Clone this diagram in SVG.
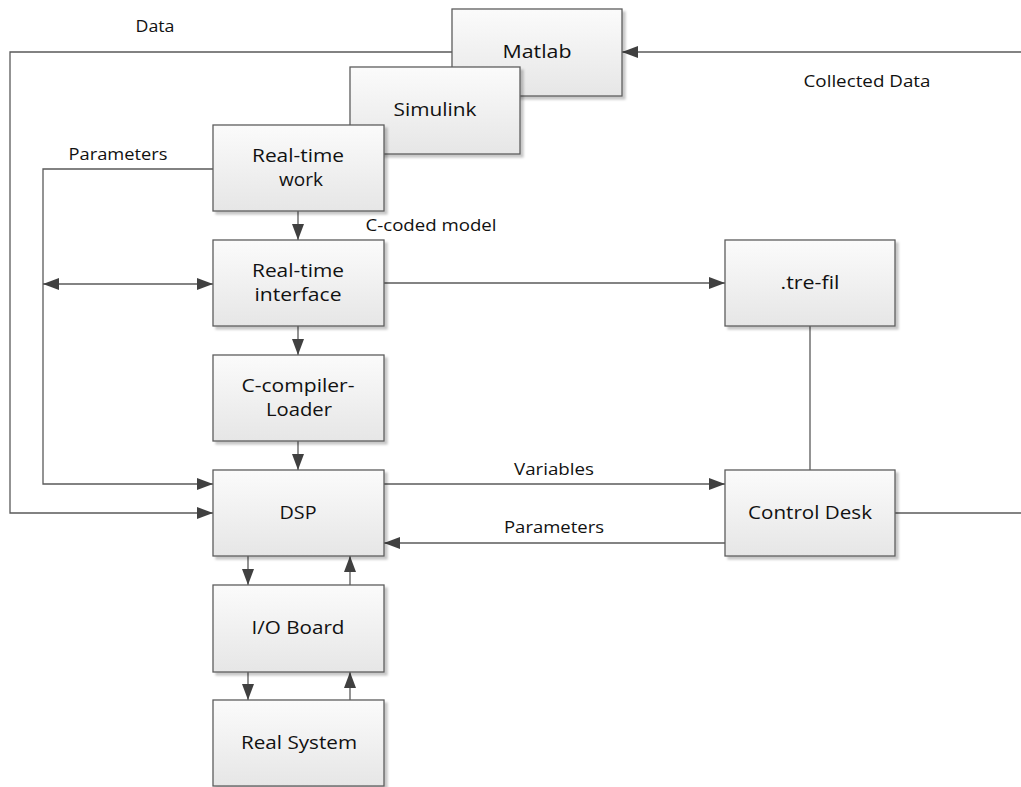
<svg xmlns="http://www.w3.org/2000/svg" width="1021" height="787" viewBox="0 0 1021 787">
<defs>
<linearGradient id="g" x1="0" y1="0" x2="0" y2="1">
<stop offset="0" stop-color="#fbfbfb"/>
<stop offset="1" stop-color="#e6e6e6"/>
</linearGradient>
<filter id="sh" x="-10%" y="-10%" width="130%" height="130%">
<feDropShadow dx="3" dy="3" stdDeviation="1.2" flood-color="#000" flood-opacity="0.22"/>
</filter>
<marker id="ah" viewBox="0 0 16 12" refX="16" refY="6" markerWidth="16" markerHeight="12" markerUnits="userSpaceOnUse" orient="auto-start-reverse">
<path d="M0,0 L16,6 L0,12 Z" fill="#404040"/>
</marker>
<style>
.box{fill:url(#g);stroke:#5e5e5e;stroke-width:1.3;filter:url(#sh)}
.t{font-family:"Open Sans","Liberation Sans",sans-serif;font-size:18px;fill:#111;text-anchor:middle}
.l{font-family:"Open Sans","Liberation Sans",sans-serif;font-size:15.5px;fill:#111;text-anchor:middle}
.c{fill:none;stroke:#5a5a5a;stroke-width:1.3}
.a{marker-end:url(#ah)}
.b{marker-start:url(#ah);marker-end:url(#ah)}
</style>
</defs>
<g id="connectors">
<path class="c a" d="M452,52 H10 V513 H213"/>
<path class="c a" d="M213,169 H43 V484 H213"/>
<path class="c b" d="M43,284 H213"/>
<path class="c a" d="M298,211 V240"/>
<path class="c a" d="M384,283 H725"/>
<path class="c a" d="M298,326 V355"/>
<path class="c a" d="M298,441 V470"/>
<path class="c a" d="M384,484 H725"/>
<path class="c a" d="M725,543 H384"/>
<path class="c" d="M810,326 V470"/>
<path class="c" d="M895,513 H1021"/>
<path class="c a" d="M1021,52 H622"/>
<path class="c a" d="M248,556 V585"/>
<path class="c a" d="M350,585 V556"/>
<path class="c a" d="M248,672 V700"/>
<path class="c a" d="M350,700 V672"/>
<text class="l" x="155" y="32" textLength="39" lengthAdjust="spacingAndGlyphs">Data</text>
<text class="l" x="118" y="160" textLength="99" lengthAdjust="spacingAndGlyphs">Parameters</text>
<text class="l" x="867" y="87" textLength="127" lengthAdjust="spacingAndGlyphs">Collected Data</text>
<text class="l" x="431" y="231" textLength="131" lengthAdjust="spacingAndGlyphs">C-coded model</text>
<text class="l" x="554" y="475" textLength="80" lengthAdjust="spacingAndGlyphs">Variables</text>
<text class="l" x="554" y="533" textLength="100" lengthAdjust="spacingAndGlyphs">Parameters</text>
</g>
<g id="matlab"><rect class="box" x="452" y="9" width="170" height="87"/><text class="t" x="537" y="58" textLength="69" lengthAdjust="spacingAndGlyphs">Matlab</text></g>
<g id="simulink"><rect class="box" x="350" y="67" width="170" height="87"/><text class="t" x="435" y="116" textLength="83" lengthAdjust="spacingAndGlyphs">Simulink</text></g>
<g id="rtw"><rect class="box" x="213" y="125" width="171" height="86"/><text class="t" x="298" y="162" textLength="92" lengthAdjust="spacingAndGlyphs">Real-time</text><text class="t" x="301" y="186" textLength="44" lengthAdjust="spacingAndGlyphs">work</text></g>
<g id="rti"><rect class="box" x="213" y="240" width="171" height="86"/><text class="t" x="298" y="277" textLength="92" lengthAdjust="spacingAndGlyphs">Real-time</text><text class="t" x="298" y="301" textLength="87" lengthAdjust="spacingAndGlyphs">interface</text></g>
<g id="tre"><rect class="box" x="725" y="240" width="170" height="86"/><text class="t" x="810" y="289" textLength="59" lengthAdjust="spacingAndGlyphs">.tre-fil</text></g>
<g id="cc"><rect class="box" x="213" y="355" width="171" height="86"/><text class="t" x="298" y="392" textLength="113" lengthAdjust="spacingAndGlyphs">C-compiler-</text><text class="t" x="299" y="416" textLength="66" lengthAdjust="spacingAndGlyphs">Loader</text></g>
<g id="dsp"><rect class="box" x="213" y="470" width="171" height="86"/><text class="t" x="298" y="519" textLength="37" lengthAdjust="spacingAndGlyphs">DSP</text></g>
<g id="cd"><rect class="box" x="725" y="470" width="170" height="86"/><text class="t" x="810" y="519" textLength="124" lengthAdjust="spacingAndGlyphs">Control Desk</text></g>
<g id="io"><rect class="box" x="213" y="585" width="171" height="87"/><text class="t" x="298" y="634" textLength="93" lengthAdjust="spacingAndGlyphs">I/O Board</text></g>
<g id="rs"><rect class="box" x="213" y="700" width="171" height="86"/><text class="t" x="299" y="749" textLength="116" lengthAdjust="spacingAndGlyphs">Real System</text></g>
</svg>
